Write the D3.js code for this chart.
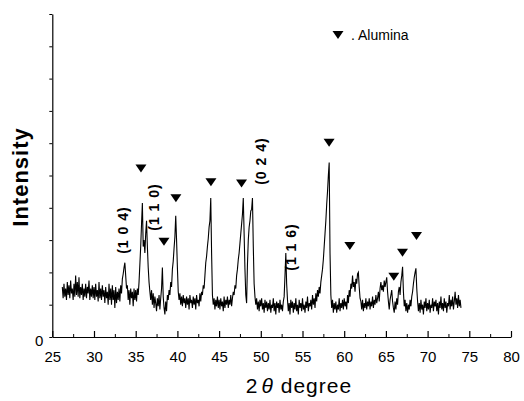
<!DOCTYPE html>
<html>
<head>
<meta charset="utf-8">
<script src="https://cdn.jsdelivr.net/npm/d3@7"></script>
<style>
  body { margin: 0; background: #fff; }
  svg { display: block; }
  text { font-family: "Liberation Sans", Arial, sans-serif; fill: #000; }
</style>
</head>
<body>
<svg id="chart" width="524" height="401"></svg>
<script>
// XRD scan: 2θ from 26.2° in 0.1° steps, intensity in counts (one row per degree)
const scanStart = 26.2;
const scanStep = 0.1;
const intensity = [
  310, 240, 330, 250, 300, 230, 340, 260,
  320, 240, 350, 270, 300, 230, 330, 250, 380, 260,
  340, 250, 370, 240, 310, 260, 330, 230, 300, 250,
  330, 240, 310, 270, 350, 230, 300, 250, 320, 240,
  310, 230, 330, 250, 290, 220, 340, 240, 300, 230,
  320, 250, 290, 210, 310, 240, 280, 200, 330, 230,
  300, 200, 320, 230, 290, 180, 310, 210, 280, 230,
  300, 220, 320, 270, 360, 390, 430, 460, 380, 300,
  320, 230, 290, 200, 300, 240, 280, 190, 300, 230,
  290, 220, 300, 260, 340, 450, 560, 700, 830, 560,
  600, 520, 640, 720, 560, 430, 340, 280, 230, 290,
  200, 270, 180, 250, 210, 160, 240, 190, 260, 170,
  240, 300, 430, 250, 180, 140, 220, 160, 260, 230,
  290, 260, 340, 310, 420, 470, 550, 620, 750, 600,
  430, 280, 230, 270, 200, 250, 190, 260, 210, 240,
  180, 250, 200, 240, 170, 260, 210, 230, 180, 250,
  200, 240, 170, 260, 210, 230, 190, 270, 220, 280,
  260, 320, 300, 380, 460, 500, 560, 610, 680, 720,
  860, 520, 260, 200, 240, 170, 230, 190, 250, 180,
  230, 170, 240, 190, 220, 160, 250, 180, 230, 200,
  250, 180, 230, 200, 260, 190, 240, 280, 260, 320,
  300, 380, 420, 480, 520, 580, 640, 700, 760, 860,
  640, 420, 260, 210, 450, 600, 680, 720, 780, 790,
  860, 560, 330, 250, 200, 240, 170, 220, 160, 230,
  190, 240, 170, 210, 150, 230, 180, 220, 160, 210,
  170, 230, 150, 200, 180, 240, 160, 210, 140, 220,
  180, 210, 150, 230, 170, 200, 160, 220, 250, 380,
  520, 330, 230, 160, 210, 140, 230, 180, 220, 150,
  210, 170, 240, 160, 200, 140, 230, 180, 210, 160,
  240, 170, 200, 150, 220, 180, 250, 160, 210, 190,
  230, 170, 260, 200, 240, 180, 270, 220, 290, 250,
  310, 270, 340, 380, 420, 480, 560, 640, 720, 820,
  900, 1000, 1080, 520, 260, 180, 230, 150, 210, 170,
  220, 150, 200, 170, 240, 160, 210, 180, 230, 170,
  240, 190, 220, 170, 260, 210, 290, 250, 330, 300,
  380, 310, 340, 280, 360, 330, 390, 400, 310, 240,
  220, 170, 230, 160, 210, 180, 240, 170, 220, 190,
  240, 170, 220, 190, 250, 180, 230, 200, 260, 210,
  240, 280, 220, 300, 340, 290, 320, 280, 350, 310,
  340, 370, 280, 220, 170, 230, 260, 290, 220, 180,
  150, 220, 170, 240, 200, 280, 310, 260, 340, 380,
  435, 280, 190, 230, 160, 210, 150, 200, 170, 230,
  190, 250, 280, 330, 370, 400, 425, 300, 220, 160,
  210, 150, 230, 170, 200, 140, 220, 180, 240, 160,
  210, 170, 230, 150, 200, 180, 240, 160, 220, 190,
  230, 160, 210, 140, 220, 180, 250, 170, 210, 160,
  240, 180, 220, 150, 210, 190, 260, 170, 230, 190,
  250, 170, 220, 280, 200, 240, 180, 260, 190, 230,
  180
];

// Alumina reflections (marker position: 2θ, counts)
const aluminaTheta = [35.63, 38.39, 39.82, 44.02, 47.69, 58.19, 60.67, 65.95, 66.99, 68.67];
const aluminaLevel = [1044, 590, 859, 958, 951, 1203, 563, 373, 522, 625];

// Hematite (hkl) labels
const hklText  = ["(1 0 4)", "(1 1 0)", "(0 2 4)", "(1 1 6)"];
const hklTheta = [33.48, 37.19, 50.01, 53.61];
const hklLevel = [662, 805, 1089, 557];

const xTickValues = [25, 30, 35, 40, 45, 50, 55, 60, 65, 70, 75, 80];
const xMinorValues = [27.5, 32.5, 37.5, 42.5, 47.5, 52.5, 57.5, 62.5, 67.5, 72.5, 77.5];
const yTickValues = [0, 200, 400, 600, 800, 1000, 1200, 1400, 1600, 1800, 2000];
const yTickLabels = ["0"];

const svg = d3.select("#chart");
svg.append("rect").attr("width", 524).attr("height", 401).attr("fill", "#fff");

const x = d3.scaleLinear().domain([25, 80]).range([52.3, 511]);
const y = d3.scaleLinear().domain([0, 2000]).range([337, 14]);

// x axis: major ticks every 5°, minor ticks in between, both pointing inward
const xAxis = svg.append("g").attr("transform", `translate(0,${y(0)})`)
  .call(d3.axisBottom(x).tickValues(xTickValues).tickSizeInner(-6).tickSizeOuter(0).tickPadding(14));
xAxis.select(".domain").attr("stroke", "#000").attr("stroke-width", 1.2);
xAxis.selectAll(".tick line").attr("stroke", "#000").attr("stroke-width", 1.2);
xAxis.selectAll(".tick text").attr("font-size", 15).attr("font-family", "Liberation Sans, Arial, sans-serif");

svg.append("g").attr("transform", `translate(0,${y(0)})`)
  .call(d3.axisBottom(x).tickValues(xMinorValues).tickSizeInner(-3).tickSizeOuter(0).tickFormat(""))
  .call(g => g.select(".domain").remove())
  .call(g => g.selectAll(".tick line").attr("stroke", "#000").attr("stroke-width", 1));

// y axis: short outward ticks, only zero labelled
const yAxis = svg.append("g").attr("transform", `translate(${x(25)},0)`)
  .call(d3.axisLeft(y).tickValues(yTickValues).tickSizeInner(3).tickSizeOuter(0)
    .tickPadding(6).tickFormat((d, i) => yTickLabels[i] || ""));
yAxis.select(".domain").attr("stroke", "#000").attr("stroke-width", 1.2);
yAxis.selectAll(".tick line").attr("stroke", "#000").attr("stroke-width", 1);
yAxis.selectAll(".tick text").attr("font-size", 15).attr("dy", "0.55em")
  .attr("font-family", "Liberation Sans, Arial, sans-serif");

// diffraction pattern
const pattern = intensity.map((v, i) => [scanStart + i * scanStep, v]);
svg.append("path")
  .datum(pattern)
  .attr("fill", "none")
  .attr("stroke", "#000")
  .attr("stroke-width", 1.1)
  .attr("stroke-linejoin", "miter")
  .attr("d", d3.line().x(d => x(d[0])).y(d => y(d[1])));

// alumina markers
const tri = "M-5.5,-4L5.5,-4L0,4Z";
svg.append("g").selectAll("path")
  .data(aluminaTheta)
  .join("path")
  .attr("d", tri)
  .attr("fill", "#000")
  .attr("transform", (d, i) => `translate(${x(d)},${y(aluminaLevel[i])})`);

// hkl labels, rotated
svg.append("g").selectAll("text")
  .data(hklText)
  .join("text")
  .attr("transform", (d, i) => `translate(${x(hklTheta[i])},${y(hklLevel[i])}) rotate(-90)`)
  .attr("text-anchor", "middle")
  .attr("dominant-baseline", "central")
  .attr("font-size", 14)
  .attr("font-weight", "bold")
  .attr("letter-spacing", 1)
  .text(d => d);

// legend
svg.append("path").attr("d", tri).attr("fill", "#000").attr("transform", "translate(338,35)");
svg.append("text").attr("x", 351).attr("y", 40).attr("font-size", 14).text(". Alumina");

// axis titles
const xTitle = svg.append("text").attr("x", 299).attr("y", 393)
  .attr("text-anchor", "middle").attr("font-size", 21).attr("letter-spacing", 1);
xTitle.append("tspan").text("2");
xTitle.append("tspan").attr("font-style", "italic").attr("dx", 3).text("θ");
xTitle.append("tspan").text(" degree");

svg.append("text")
  .attr("transform", "translate(28,177) rotate(-90)")
  .attr("text-anchor", "middle")
  .attr("font-size", 22)
  .attr("font-weight", "bold")
  .attr("letter-spacing", 1)
  .text("Intensity");
</script>
</body>
</html>
